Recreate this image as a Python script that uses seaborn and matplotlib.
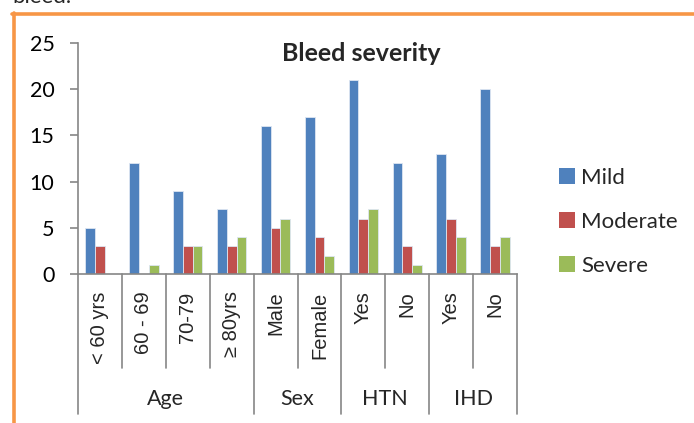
import pandas as pd
import matplotlib
matplotlib.use("Agg")
import matplotlib.pyplot as plt
from matplotlib.lines import Line2D
from matplotlib.patches import Patch
import matplotlib.transforms as mtransforms
import seaborn as sns

# chart data
categories = ["< 60 yrs", "60 - 69", "70-79", "\u2265 80yrs", "Male", "Female", "Yes", "No", "Yes", "No"]
groups = ["Age", "Sex", "HTN", "IHD"]
group_sizes = [4, 2, 2, 2]
mild = [5, 12, 9, 7, 16, 17, 21, 12, 13, 20]
moderate = [3, 0, 3, 3, 5, 4, 6, 3, 6, 3]
severe = [0, 1, 3, 4, 6, 2, 7, 1, 4, 4]
series_names = ["Mild", "Moderate", "Severe"]
colors = ["#4F81BD", "#C0504D", "#9BBB59"]

sns.set_theme(style="white")
plt.rcParams["font.family"] = ["Lato", "DejaVu Sans"]

rows = []
for i in range(len(categories)):
    for name, vals in zip(series_names, [mild, moderate, severe]):
        rows.append({"pos": i, "series": name, "value": vals[i]})
df = pd.DataFrame(rows)

fig = plt.figure(figsize=(6.94, 4.23), dpi=100)
ax = fig.add_axes([78 / 694, 1 - 274 / 423, (517 - 78) / 694, (274 - 43) / 423])

sns.barplot(data=df, x="pos", y="value", hue="series", hue_order=series_names,
            palette=colors, width=0.67, dodge=True, ax=ax, legend=False,
            edgecolor="#dde6f2", linewidth=0.6, saturation=1)

ax.set_xlim(-0.5, len(categories) - 0.5)
ax.set_ylim(0, 25)
ax.set_yticks(range(0, 26, 5))
ax.set_xticks([])
ax.set_xlabel("")
ax.set_ylabel("")
for s in ["top", "right"]:
    ax.spines[s].set_visible(False)
for s in ["left", "bottom"]:
    ax.spines[s].set_color("#868686")
    ax.spines[s].set_linewidth(1.2)
ax.tick_params(axis="y", left=True, length=6, width=1.2, color="#868686",
               pad=11, labelsize=15.5, labelcolor="black")

# category axis decorations below the plot
trans = mtransforms.blended_transform_factory(ax.transData, ax.transAxes)
bounds = [-0.5]
for g in group_sizes:
    bounds.append(bounds[-1] + g)
for k in range(len(categories) + 1):
    xb = k - 0.5
    bottom = -0.605 if xb in bounds else -0.405
    ax.add_line(Line2D([xb, xb], [0, bottom], transform=trans, color="#868686",
                       lw=1.2, clip_on=False))
for i, lab in enumerate(categories):
    ax.text(i, -0.075, lab, transform=trans, rotation=90, ha="center", va="top",
            fontsize=14.5, family=["Liberation Sans", "DejaVu Sans"])
for gi, g in enumerate(groups):
    mid = (bounds[gi] + bounds[gi + 1]) / 2
    ax.text(mid, -0.54, g, transform=trans, ha="center", va="center", fontsize=15.5)

ax.text(0.645, 0.955, "Bleed severity", transform=ax.transAxes, ha="center",
        va="center", fontsize=18, fontweight="bold")

handles = [Patch(facecolor=c, edgecolor="none") for c in colors]
fig.legend(handles, series_names, loc="center left", bbox_to_anchor=(539 / 694, 1 - 221.5 / 423),
           frameon=False, fontsize=16, handlelength=0.7, handleheight=0.7,
           handletextpad=0.3, labelspacing=1.08)

# orange frame and cut-off text above
fig.add_artist(Line2D([12 / 694, 1.0], [1 - 14.5 / 423, 1 - 14.5 / 423], color="#F79646", lw=2.6))
fig.add_artist(Line2D([14 / 694, 14 / 694], [0, 1 - 13 / 423], color="#F79646", lw=2.6))
fig.text(12 / 694, 1 - 3 / 423, "bleed.", ha="left", va="baseline", fontsize=16)

fig.savefig("out.png", dpi=100)
